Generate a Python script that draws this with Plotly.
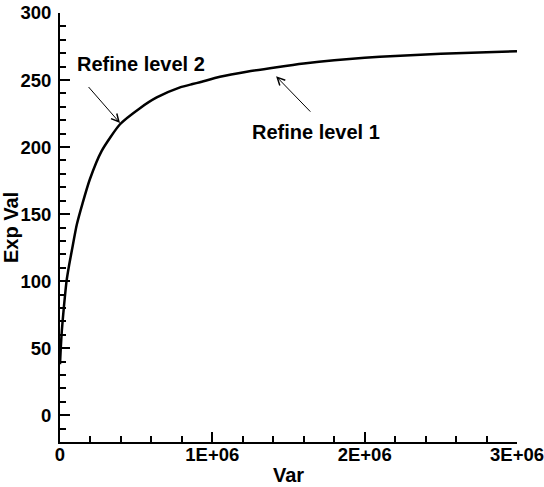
import plotly.graph_objects as go

# Data
var_values = [0, 5e3, 12e3, 25e3, 43e3, 60e3, 78e3, 110e3, 148e3, 196e3, 273e3, 394e3,
              525e3, 635e3, 788e3, 870e3, 919e3, 1.05e6, 1.226e6, 1.423e6, 1.6e6,
              1.8e6, 2.0e6, 2.2e6, 2.4e6, 2.6e6, 2.8e6, 3.0e6]
exp_values = [38, 50, 63, 80, 100, 112, 123, 142, 158, 176, 197, 217,
              229, 237, 244.5, 247, 248.4, 252.4, 256.2, 259.6, 262.4,
              264.8, 266.6, 268, 269.1, 270, 270.8, 271.5]

x_tick_vals = [0, 1e6, 2e6, 3e6]
x_tick_text = ["0", "1E+06", "2E+06", "3E+06"]
y_tick_vals = [0, 50, 100, 150, 200, 250, 300]
y_tick_text = ["0", "50", "100", "150", "200", "250", "300"]

labels = ["Refine level 2", "Refine level 1"]

FONT = "Liberation Sans, Arial, Helvetica, sans-serif"

fig = go.Figure()
fig.add_trace(go.Scatter(x=var_values, y=exp_values, mode="lines",
                         line=dict(color="black", width=2.5, shape="spline", smoothing=0.6),
                         showlegend=False, hoverinfo="skip"))

axis_common = dict(
    showgrid=False, zeroline=False, showline=True, linecolor="black", linewidth=2,
    ticks="inside", ticklen=10, tickwidth=2, tickcolor="black", mirror=False,
    tickfont=dict(family=FONT, size=18.5, color="black", weight="bold"),
    tickmode="array", automargin=False, ticklabeloverflow="allow",
)

fig.update_xaxes(
    range=[0, 3e6], tickvals=x_tick_vals, ticktext=x_tick_text,
    minor=dict(ticks="inside", ticklen=6, tickwidth=1.5, tickcolor="black", dtick=2e5),
    title=dict(text="Var", font=dict(family=FONT, size=20, color="black", weight="bold"),
               standoff=4),
    ticklabelstandoff=-5,
    **axis_common,
)
fig.update_yaxes(
    range=[-20, 300], tickvals=y_tick_vals, ticktext=y_tick_text,
    minor=dict(ticks="inside", ticklen=6, tickwidth=1.5, tickcolor="black", dtick=10, tick0=0),
    title=dict(text="Exp Val", font=dict(family=FONT, size=20, color="black", weight="bold"),
               standoff=1),
    ticklabelstandoff=3,
    **axis_common,
)

ann_font = dict(family=FONT, size=20, color="black", weight="bold")
# text labels
fig.add_annotation(x=530e3, y=262, text=labels[0], showarrow=False, font=ann_font,
                   xref="x", yref="y")
fig.add_annotation(x=1.68e6, y=211.4, text=labels[1], showarrow=False, font=ann_font,
                   xref="x", yref="y")
# arrows
fig.add_annotation(x=394e3, y=217.9, ax=179e3, ay=245.9, xref="x", yref="y",
                   axref="x", ayref="y", text="", showarrow=True, arrowhead=5,
                   arrowsize=1.5, arrowwidth=1, arrowcolor="black")
fig.add_annotation(x=1.4185e6, y=252.8, ax=1.653e6, ay=225.3, xref="x", yref="y",
                   axref="x", ayref="y", text="", showarrow=True, arrowhead=5,
                   arrowsize=1.5, arrowwidth=1, arrowcolor="black")

fig.update_layout(
    width=544, height=487,
    margin=dict(l=60, r=27, t=13, b=45, pad=0),
    plot_bgcolor="white", paper_bgcolor="white",
    font=dict(family=FONT, color="black"),
)

fig.write_html(
    "out.html",
    config={"displayModeBar": False},
    post_script="document.body.style.margin='0px';document.body.style.overflow='hidden';",
)
